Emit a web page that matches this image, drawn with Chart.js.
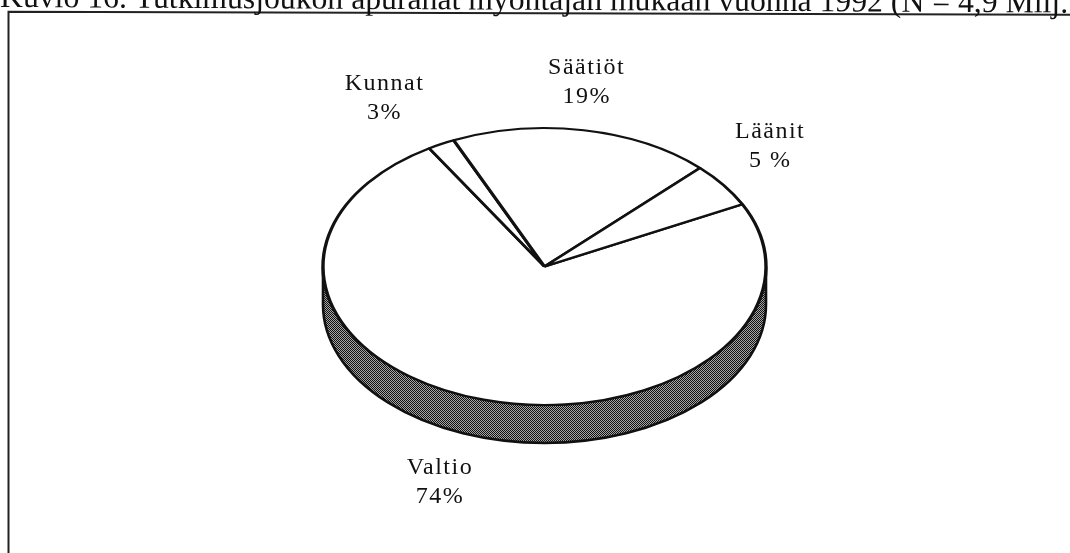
<!DOCTYPE html>
<html>
<head>
<meta charset="utf-8">
<script src="https://cdn.jsdelivr.net/npm/chart.js@4/dist/chart.umd.min.js"></script>
<style>
  html, body { margin: 0; padding: 0; background: #fff; }
  #wrap { width: 1070px; height: 553px; position: relative; }
</style>
</head>
<body>
<div id="wrap"><canvas id="c" width="1070" height="553"></canvas></div>
<script>
// ---- data ----
const categories = ['Valtio', 'Kunnat', 'Säätiöt', 'Läänit'];
const shares = [73.7, 2.0, 19.1, 5.2];           // slice sizes
const shareLabels = ['74%', '3%', '19%', '5 %']; // printed labels
const titleText = 'Kuvio 16. Tutkimusjoukon apurahat myöntäjän mukaan vuonna 1992 (N = 4,9 Milj. mk)';

// ---- style / geometry ----
const TILT = 0.625;     // vertical squash of the pie
const DEPTH = 38;       // thickness of the 3D side
const LABEL_R = 1.355;  // label radius relative to pie radius
const labelNudge = [[-22, -3], [-20, -2], [-11, 0], [-17, -10]];
const SERIF = '"Liberation Serif", "DejaVu Serif", serif';

function makePattern(ctx) {
  const p = document.createElement('canvas');
  p.width = 2; p.height = 2;
  const g = p.getContext('2d');
  g.fillStyle = '#a6a6a6'; g.fillRect(0, 0, 2, 2);
  g.fillStyle = '#111111'; g.fillRect(0, 0, 1, 1); g.fillRect(1, 1, 1, 1);
  return ctx.createPattern(p, 'repeat');
}

const pie3d = {
  id: 'pie3d',
  beforeDatasetsDraw(chart) {
    const ctx = chart.ctx;
    const arc = chart.getDatasetMeta(0).data[0];
    if (!arc) return;
    const cx = arc.x, cy = arc.y, R = arc.outerRadius, ry = R * TILT;
    // side band
    ctx.save();
    ctx.beginPath();
    ctx.ellipse(cx, cy, R, ry, 0, 0, Math.PI, false);
    ctx.lineTo(cx - R, cy + DEPTH);
    ctx.ellipse(cx, cy + DEPTH, R, ry, 0, Math.PI, 0, true);
    ctx.closePath();
    ctx.fillStyle = makePattern(ctx);
    ctx.fill();
    ctx.lineWidth = 2.6;
    ctx.strokeStyle = '#111';
    ctx.stroke();
    ctx.restore();
    // squash the top face
    ctx.save();
    ctx.translate(cx, cy);
    ctx.scale(1, TILT);
    ctx.translate(-cx, -cy);
  },
  afterDatasetsDraw(chart) {
    chart.ctx.restore();
  },
  afterDraw(chart) {
    const ctx = chart.ctx;
    const meta = chart.getDatasetMeta(0);
    // slice labels
    ctx.save();
    ctx.fillStyle = '#111';
    ctx.font = '24px ' + SERIF;
    ctx.letterSpacing = '1.5px';
    ctx.textAlign = 'center';
    ctx.textBaseline = 'middle';
    meta.data.forEach((a, i) => {
      const mid = (a.startAngle + a.endAngle) / 2;
      const r = a.outerRadius * LABEL_R;
      let x = a.x + r * Math.cos(mid);
      let y = a.y + r * Math.sin(mid) * TILT;
      if (Math.sin(mid) > 0) y += DEPTH;
      x += labelNudge[i][0];
      y += labelNudge[i][1];
      ctx.fillText(categories[i], x, y - 14.5);
      ctx.fillText(shareLabels[i], x, y + 14.5);
    });
    ctx.restore();
    // frame (slightly skewed like the scan)
    ctx.save();
    ctx.strokeStyle = '#222';
    ctx.lineWidth = 2;
    ctx.beginPath();
    ctx.moveTo(8.5, 560);
    ctx.lineTo(8.5, 11.8);
    ctx.lineTo(1075, 14.8);
    ctx.stroke();
    ctx.restore();
    // title (top cut off like the scan)
    ctx.save();
    ctx.fillStyle = '#111';
    const prefix = 'Kuvio 16. Tutkimusjoukon apurahat myöntäjän mukaan vuonna 1992';
    ctx.font = '28px ' + SERIF;
    const w = ctx.measureText(prefix).width;
    const size = 28 * 883 / w;
    ctx.font = size.toFixed(2) + 'px ' + SERIF;
    ctx.textBaseline = 'alphabetic';
    ctx.textAlign = 'left';
    ctx.translate(0, 7);
    ctx.rotate(Math.atan2(5.5, 1070));
    ctx.fillText(titleText, 0, 0);
    ctx.restore();
  }
};

new Chart(document.getElementById('c'), {
  type: 'pie',
  data: {
    labels: categories,
    datasets: [{
      data: shares,
      backgroundColor: '#ffffff',
      borderColor: '#111111',
      borderWidth: 3.4,
      borderAlign: 'center'
    }]
  },
  options: {
    responsive: false,
    animation: false,
    events: [],
    rotation: 63.3,
    radius: 221.5,
    layout: { padding: { left: 323, right: 304, top: 45, bottom: 65 } },
    plugins: {
      legend: { display: false },
      tooltip: { enabled: false },
      title: { display: false }
    }
  },
  plugins: [pie3d]
});
</script>
</body>
</html>
